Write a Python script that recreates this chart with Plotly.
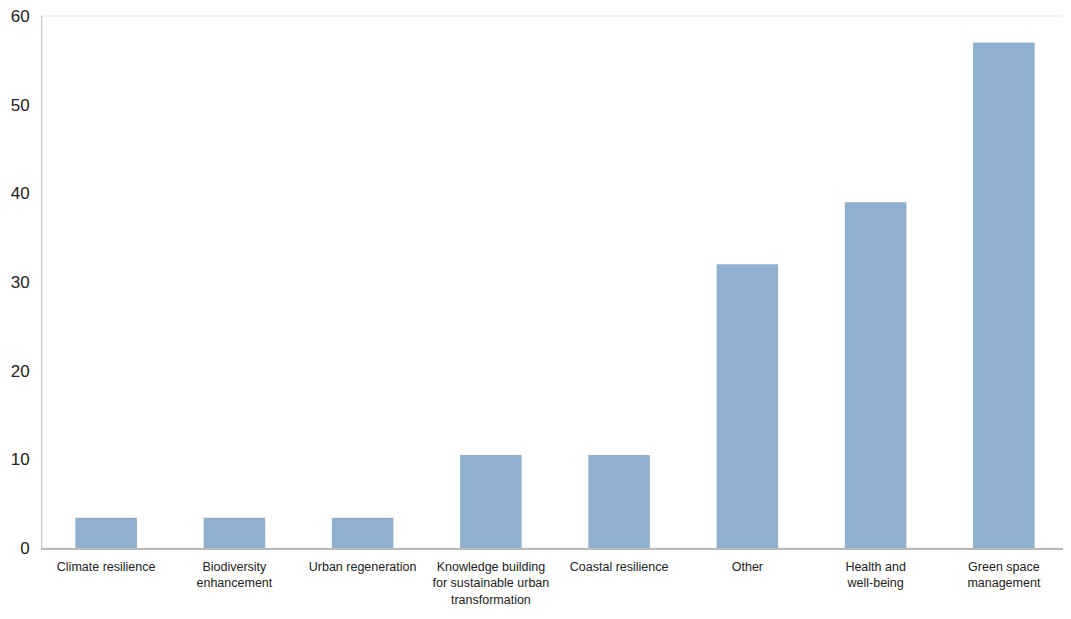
import plotly.graph_objects as go

categories = [
    "Climate resilience",
    "Biodiversity<br>enhancement",
    "Urban regeneration",
    "Knowledge building<br>for sustainable urban<br>transformation",
    "Coastal resilience",
    "Other",
    "Health and<br>well-being",
    "Green space<br>management",
]
values = [3.4, 3.4, 3.4, 10.5, 10.5, 32, 39, 57]
y_ticks = [0, 10, 20, 30, 40, 50, 60]

fig = go.Figure(
    go.Bar(
        x=categories,
        y=values,
        marker=dict(color="#8fb0cf", line=dict(width=0)),
        width=0.48,
    )
)

fig.update_layout(
    width=1071,
    height=619,
    margin=dict(l=34, r=11, t=8, b=79),
    paper_bgcolor="white",
    plot_bgcolor="white",
    showlegend=False,
    font=dict(family="Liberation Sans Narrow, Arial Narrow, sans-serif", color="#222"),
)
fig.update_xaxes(
    automargin=False,
    showgrid=False,
    showline=True,
    linecolor="#bbbbbb",
    linewidth=2,
    tickfont=dict(size=12.5),
    ticks="outside",
    ticklen=6,
    tickcolor="rgba(0,0,0,0)",
    ticklabeloverflow="allow",
)
fig.update_yaxes(
    automargin=False,
    range=[0, 60],
    tickvals=y_ticks,
    showgrid=False,
    zeroline=False,
    showline=True,
    linecolor="#c8c8c8",
    linewidth=1,
    tickfont=dict(size=17),
    ticks="outside",
    ticklen=8,
    tickcolor="rgba(0,0,0,0)",
    ticklabeloverflow="allow",
)
# light frame on top and right
fig.add_shape(type="rect", xref="paper", yref="paper", x0=0, y0=0, x1=1, y1=1,
              line=dict(color="#e6e6e6", width=1), layer="below")

fig.write_html("out.html")
